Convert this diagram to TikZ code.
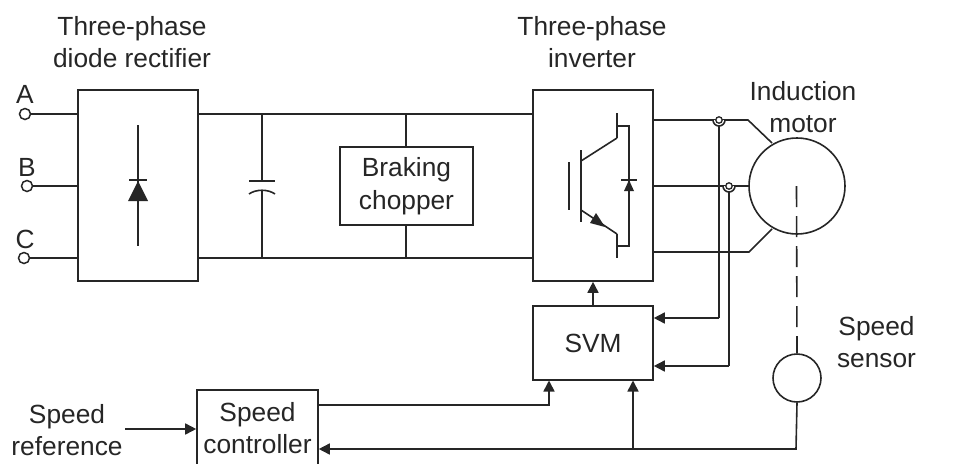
\documentclass[tikz,border=0pt]{standalone}
\usepackage{fontspec}
\setmainfont{Liberation Sans}
\usetikzlibrary{arrows.meta}
\definecolor{ink}{HTML}{262626}
\tikzset{
  wire/.style={draw=ink,line width=1.6pt},
  block/.style={draw=ink,line width=1.6pt,fill=white,inner sep=0pt},
  lbl/.style={text=ink,font=\fontsize{26.3}{32.5}\selectfont,align=center,inner sep=0pt},
  term/.style={circle,draw=ink,line width=1.5pt,fill=white,minimum size=11pt,inner sep=0pt},
  arr/.style={wire,-{Triangle[length=11pt,width=11pt]},shorten >=0pt},
  solidtri/.style={fill=ink,draw=none}
}
\begin{document}
\begin{tikzpicture}[x=1pt,y=-1pt]
\useasboundingbox (0,0) rectangle (958,463);
% blocks
\node[block,minimum width=120pt,minimum height=191pt] (rect) at (138,185.5) {};
\node[block,minimum width=120pt,minimum height=191pt] (inv) at (593,185.5) {};
\node[block,lbl,minimum width=133pt,minimum height=78pt] (chop) at (406.5,186) {Braking\\chopper};
\node[block,lbl,minimum width=120pt,minimum height=74pt] (svm) at (593,343) {SVM};
\node[block,lbl,minimum width=121pt,minimum height=76pt] (ctrl) at (257.5,428) {Speed\\controller};
\node[circle,draw=ink,line width=1.6pt,minimum size=96pt,inner sep=0pt] (motor) at (797,186) {};
\node[circle,draw=ink,line width=1.6pt,minimum size=48pt,inner sep=0pt] (sensor) at (797,378) {};
% terminals
\node[term] (ta) at (25,114) {};
\node[term] (tb) at (27,186) {};
\node[term] (tc) at (24,258) {};
\draw[wire] (ta) -- (rect.west |- ta);
\draw[wire] (tb) -- (rect.west |- tb);
\draw[wire] (tc) -- (rect.west |- tc);
% dc bus
\coordinate (busT) at (198,114);
\coordinate (busB) at (198,258);
\draw[wire] (busT) -- (533,114);
\draw[wire] (busB) -- (533,258);
\coordinate (stubT) at (406.2,114);
\coordinate (stubB) at (406.2,258);
\draw[wire] (stubT) -- (stubT |- chop.north);
\draw[wire] (stubB |- chop.south) -- (stubB);
% capacitor
\draw[wire] (262,114) -- (262,181);
\draw[wire] (262,191) -- (262,258);
\draw[wire] (249,181) -- (275,181);
\draw[wire] (249,194) .. controls (256,189) and (268,189) .. (275,194);
% rectifier diode
\draw[wire] (138,125) -- (138,246);
\draw[wire] (129,180) -- (147,180);
\fill[solidtri] (138,181) -- (148,201) -- (128,201) -- cycle;
% IGBT
\draw[wire] (569,162) -- (569,210);
\draw[wire] (581,150) -- (581,222);
\draw[wire] (581,161) -- (617,138);
\draw[wire] (617,113) -- (617,138);
\draw[wire] (617,126) -- (629,126) -- (629,246) -- (617,246);
\draw[wire] (581,210) -- (617,234);
\draw[wire] (617,234) -- (617,258);
\fill[solidtri] (605,227) -- (590,223) -- (596,213) -- cycle;
\draw[wire] (621,180) -- (637,180);
\fill[solidtri] (629,180) -- (634,191) -- (624,191) -- cycle;
% motor wires
\coordinate (m1) at (748,120);
\coordinate (m3) at (749,252);
\draw[wire] (653,120) -- (m1) -- (772,143);
\draw[wire] (653,186) -- (motor.west);
\draw[wire] (653,252) -- (m3) -- (772,229);
% current sense
\coordinate (j1) at (719,120);
\coordinate (j2) at (729,186);
\draw[wire] (j1) -- (719,318);
\draw[arr] (719,318) -- (svm.east |- 0,318);
\draw[wire] (j2) -- (729,366);
\draw[arr] (729,366) -- (svm.east |- 0,366);
\draw[wire,fill=white] (713,120) arc[start angle=180,end angle=0,radius=6];
\draw[wire,fill=white] (723,186) arc[start angle=180,end angle=0,radius=6];
\draw[draw=ink,line width=1.3pt,fill=white] (j1) circle[radius=3.2];
\draw[draw=ink,line width=1.3pt,fill=white] (j2) circle[radius=3.2];
% dashed shaft
\draw[wire,dash pattern=on 21pt off 9pt] (796.5,186) -- (sensor.north);
% control wires
\draw[arr] (svm.north) -- (inv.south);
\draw[arr] (ctrl.east |- 0,405) -- (549,405) -- (549,380.5);
\draw[arr] (sensor.south) -- (796,449) -- (ctrl.east |- 0,449);
\draw[arr] (633,449) -- (633,380.5);
\coordinate (ref) at (125,429);
\draw[arr] (ref) -- (ctrl.west |- ref);
% labels
\node[lbl] (l1) at (132,42) {Three-phase\\diode rectifier};
\node[lbl] (l2) at (592,42) {Three-phase\\inverter};
\node[lbl] (l3) at (803,107) {Induction\\motor};
\node[lbl] (l4) at (876.5,342) {Speed\\sensor};
\node[lbl] (l5) at (67,430) {Speed\\reference};
\node[lbl] (la) at (25,94) {A};
\node[lbl] (lb) at (27,167) {B};
\node[lbl] (lc) at (25,239) {C};
\end{tikzpicture}
\end{document}
